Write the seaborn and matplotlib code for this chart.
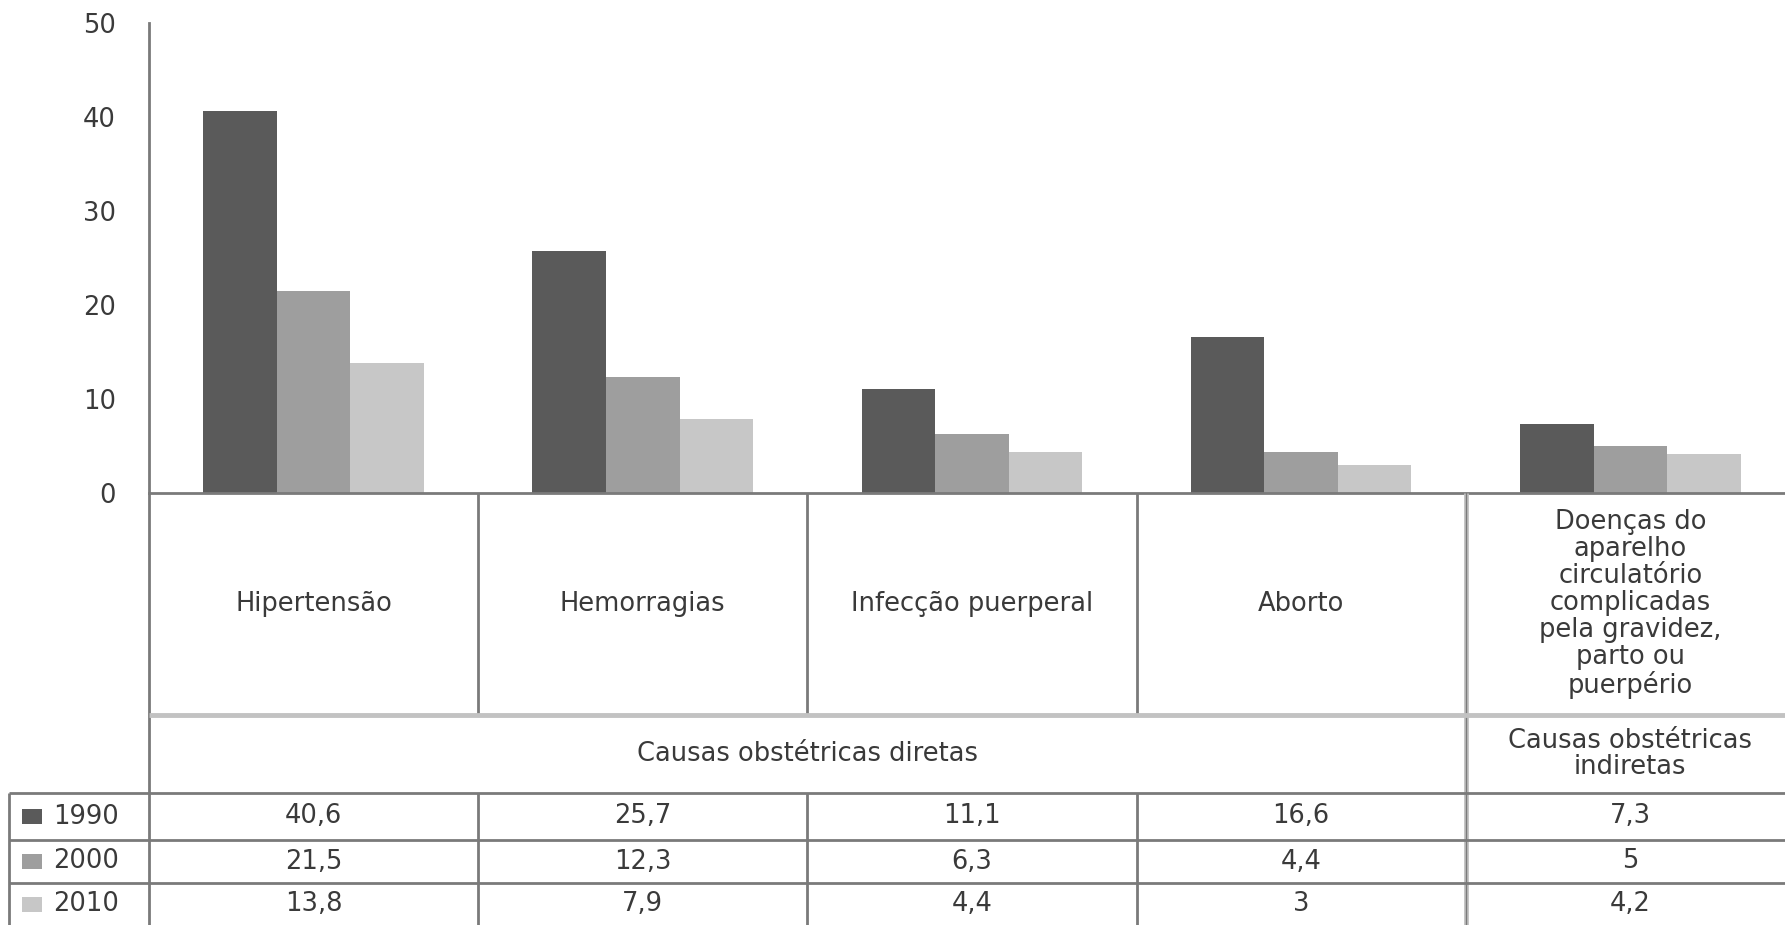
import numpy as np
import pandas as pd
import seaborn as sns
import matplotlib
matplotlib.use("Agg")
import matplotlib.pyplot as plt
import matplotlib.transforms as mtransforms
from matplotlib.lines import Line2D
from matplotlib.patches import Rectangle

# ---------------- data ----------------
categories = ["Hipertensão", "Hemorragias", "Infecção puerperal", "Aborto",
              "Doenças do\naparelho\ncirculatório\ncomplicadas\npela gravidez,\nparto ou\npuerpério"]
years = ["1990", "2000", "2010"]
values_1990 = [40.6, 25.7, 11.1, 16.6, 7.3]
values_2000 = [21.5, 12.3, 6.3, 4.4, 5.0]
values_2010 = [13.8, 7.9, 4.4, 3.0, 4.2]
value_labels_1990 = ["40,6", "25,7", "11,1", "16,6", "7,3"]
value_labels_2000 = ["21,5", "12,3", "6,3", "4,4", "5"]
value_labels_2010 = ["13,8", "7,9", "4,4", "3", "4,2"]
group_labels = ["Causas obstétricas diretas", "Causas obstétricas\nindiretas"]
yticks = [0, 10, 20, 30, 40, 50]
colors = ["#5a5a5a", "#9e9e9e", "#c7c7c7"]

# ---------------- figure ----------------
W, H = 1785, 925
DPI = 100
sns.set_theme(style="white")
plt.rcParams["font.family"] = ["DejaVu Sans"]
TXT = "#3a3a3a"
FS = 18.5

fig = plt.figure(figsize=(W / DPI, H / DPI), dpi=DPI)
fig.patch.set_facecolor("white")

def fx(px):
    return px / W

def fy(py):
    return 1 - py / H

ax_left, ax_top, ax_bottom = 149, 23, 493
ax = fig.add_axes([fx(ax_left), fy(ax_bottom), 1 - fx(ax_left), fy(ax_top) - fy(ax_bottom)])

df = pd.DataFrame({
    "cat": np.repeat(np.arange(len(categories)), 3),
    "year": years * len(categories),
    "value": np.ravel(np.column_stack([values_1990, values_2000, values_2010])),
})
df["catname"] = [categories[i] for i in df["cat"]]

sns.barplot(data=df, x="catname", y="value", hue="year", order=categories,
            hue_order=years, palette=colors, width=0.67, ax=ax,
            saturation=1, linewidth=0, legend=False)

ax.set_xlim(-0.5, len(categories) - 0.53)
ax.set_ylim(0, 50)
ax.set_yticks(yticks)
ax.set_yticklabels([str(t) for t in yticks], fontsize=FS, color=TXT)
ax.tick_params(axis="y", length=0, pad=24)
ax.set_xticks([])
ax.set_xlabel("")
ax.set_ylabel("")
for s in ["top", "right"]:
    ax.spines[s].set_visible(False)
SP = "#7a7a7a"
for s in ["left", "bottom"]:
    ax.spines[s].set_color(SP)
    ax.spines[s].set_linewidth(2.0)
ax.patch.set_alpha(0)

# blended transform: x in data, y in figure fraction
bt = mtransforms.blended_transform_factory(ax.transData, fig.transFigure)

y_axis = fy(493)
y_head = fy(715)
y_group = fy(793)
y_r1 = fy(840)
y_r2 = fy(883)
y_r3 = fy(925)
x_legend = fx(9)

dark = dict(color=SP, lw=2.0, clip_on=False, solid_capstyle="butt")
light = dict(color="#c2c2c2", lw=3.5, clip_on=False, solid_capstyle="butt")

# vertical separators between direct-cause columns
for xb in [0.5, 1.5, 2.5]:
    fig.add_artist(Line2D([xb, xb], [y_axis, y_head], transform=bt, **dark))
    fig.add_artist(Line2D([xb, xb], [y_group, y_r3], transform=bt, **dark))
# separator between direct and indirect
fig.add_artist(Line2D([3.5, 3.5], [y_axis, y_r3], transform=bt, **light))
fig.add_artist(Line2D([3.5, 3.5], [y_axis, y_r3], transform=bt, color=SP, lw=1.0, clip_on=False))
# left axis extended down
fig.add_artist(Line2D([fx(ax_left), fx(ax_left)], [y_axis, y_r3], transform=fig.transFigure, **dark))
# header bottom (light)
fig.add_artist(Line2D([fx(ax_left), 1], [y_head, y_head], transform=fig.transFigure, **light))
# row lines
for yy in [y_group, y_r1, y_r2]:
    fig.add_artist(Line2D([x_legend, 1], [yy, yy], transform=fig.transFigure, **dark))
fig.add_artist(Line2D([x_legend, x_legend], [y_group, y_r3], transform=fig.transFigure, **dark))

# category labels
y_cat = (y_axis + y_head) / 2
for i, c in enumerate(categories):
    fig.text(i, y_cat, c, transform=bt, ha="center", va="center", fontsize=FS,
             color=TXT, linespacing=1.05, multialignment="center")

# group labels
y_grp = (y_head + y_group) / 2
fig.text(1.5, y_grp, group_labels[0], transform=bt, ha="center", va="center",
         fontsize=FS, color=TXT)
fig.text(4.0, y_grp, group_labels[1], transform=bt, ha="center", va="center",
         fontsize=FS, color=TXT, linespacing=1.05, multialignment="center")

# data rows
row_bounds = [(y_group, y_r1), (y_r1, y_r2), (y_r2, y_r3)]
row_labels = [value_labels_1990, value_labels_2000, value_labels_2010]
for (yt, yb), labels, yr, col in zip(row_bounds, row_labels, years, colors):
    yc = (yt + yb) / 2
    for i, lab in enumerate(labels):
        fig.text(i, yc, lab, transform=bt, ha="center", va="center",
                 fontsize=FS, color=TXT)
    sq_w, sq_h = 20 / W, 15 / H
    fig.add_artist(Rectangle((fx(22), yc - sq_h / 2), sq_w, sq_h,
                             transform=fig.transFigure, facecolor=col, edgecolor="none"))
    fig.text(fx(53), yc, yr, transform=fig.transFigure, ha="left", va="center",
             fontsize=FS, color=TXT)

fig.savefig("out.png", dpi=DPI, facecolor="white")
